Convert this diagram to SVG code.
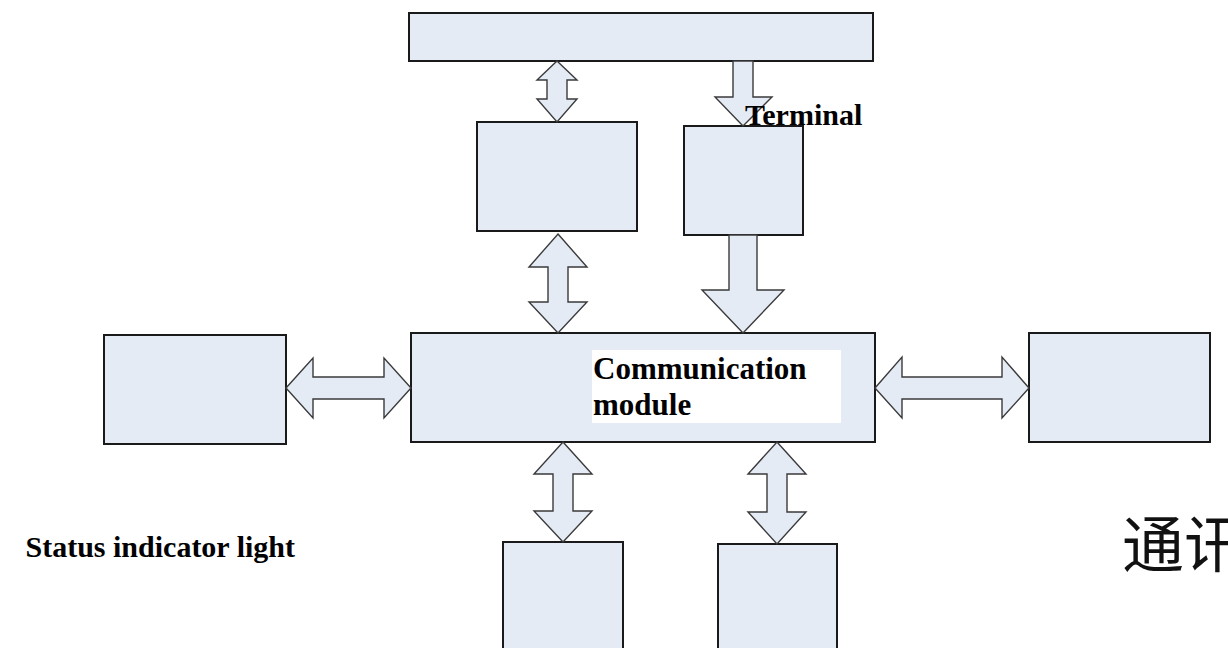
<svg xmlns="http://www.w3.org/2000/svg" width="1228" height="648" viewBox="0 0 1228 648">
  <style>
    .box { fill: #E4EBF5; stroke: #1a1a1a; stroke-width: 2; }
    .arr { fill: #E4EBF5; stroke: #3a3a3a; stroke-width: 1.4; stroke-linejoin: miter; }
    .lbl { font-family: "Liberation Serif", "Times New Roman", serif; font-weight: bold; fill: #000; }
    .cjk { font-family: "Noto Sans CJK SC", sans-serif; fill: #111; }
  </style>
  <rect width="1228" height="648" fill="#ffffff"/>

  <g id="top-bar"><rect class="box" x="409" y="13" width="464" height="48"/></g>
  <g id="box-upper-left"><rect class="box" x="477" y="122" width="160" height="109"/></g>
  <g id="terminal"><rect class="box" x="684" y="126" width="119" height="109"/></g>
  <g id="communication-module"><rect class="box" x="411" y="333" width="464" height="109"/></g>
  <g id="left-box"><rect class="box" x="104" y="335" width="182" height="109"/></g>
  <g id="right-box"><rect class="box" x="1029" y="333" width="181" height="109"/></g>
  <g id="bottom-left-box"><rect class="box" x="503" y="542" width="120" height="120"/></g>
  <g id="bottom-right-box"><rect class="box" x="718" y="544" width="119" height="120"/></g>

  <g id="connectors">
    <polygon class="arr" points="557,61 577,80 567,80 567,99 577,99 557,122 537,99 547,99 547,80 537,80"/>
    <polygon class="arr" points="733,61 753,61 753,97 772,97 743,126 715,97 733,97"/>
    <polygon class="arr" points="558,234 587,267 568,267 568,302 587,302 558,333 529,302 548,302 548,267 529,267"/>
    <polygon class="arr" points="729,235 757,235 757,290 784,290 743,333 702,290 729,290"/>
    <polygon class="arr" points="286,388 313,358 313,377 384,377 384,358 411,388 384,418 384,399 313,399 313,418"/>
    <polygon class="arr" points="875,388 902,357 902,377 1002,377 1002,357 1029,388 1002,418 1002,399 902,399 902,418"/>
    <polygon class="arr" points="563,442 592,474 573,474 573,511 592,511 563,542 534,511 553,511 553,474 534,474"/>
    <polygon class="arr" points="777,442 806,474 787,474 787,512 806,512 777,544 748,512 767,512 767,474 748,474"/>
  </g>

  <g id="labels">
    <text class="lbl" x="745" y="125" font-size="30">Terminal</text>
    <rect x="592" y="350" width="249" height="73" fill="#ffffff"/>
    <text class="lbl" x="593" y="379" font-size="31">Communication</text>
    <text class="lbl" x="593" y="415" font-size="31">module</text>
    <text class="lbl" x="295" y="557" font-size="30" text-anchor="end">Status indicator light</text>
    <text class="cjk" x="1122" y="568" font-size="62">通讯</text>
  </g>
</svg>
